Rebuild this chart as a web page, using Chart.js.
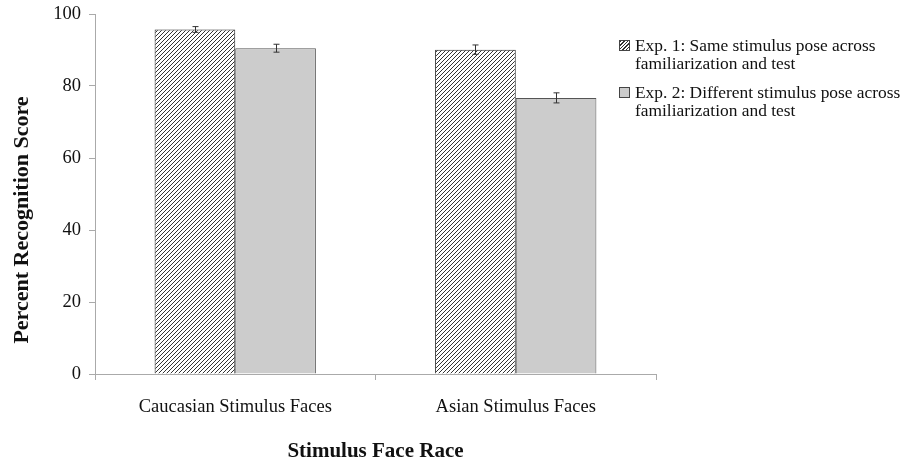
<!DOCTYPE html>
<html>
<head>
<meta charset="utf-8">
<script src="https://cdn.jsdelivr.net/npm/chart.js@4"></script>
<style>
  html, body { margin: 0; padding: 0; background: #fff; }
  #wrap { position: relative; width: 910px; height: 464px; }
  #legend { position: absolute; left: 619px; top: 36px; font-family: "Liberation Serif", "Times New Roman", serif; font-size: 17.4px; color: #111; }
  .item { position: relative; padding-left: 16px; line-height: 18px; margin-bottom: 11px; }
  .box { position: absolute; left: 0; top: 4px; width: 11px; height: 11px; box-sizing: border-box; border: 1px solid #444; }
</style>
</head>
<body>
<div id="wrap">
  <canvas id="c" width="910" height="464"></canvas>
  <div id="legend"></div>
</div>
<script>
const categories = ["Caucasian Stimulus Faces", "Asian Stimulus Faces"];
const seriesNames = [
  ["Exp. 1: Same stimulus pose across", "familiarization and test"],
  ["Exp. 2: Different stimulus pose across", "familiarization and test"]
];
const exp1Values = [95.7, 90.1];
const exp1Errors = [0.8, 1.3];
const exp2Values = [90.5, 76.7];
const exp2Errors = [1.1, 1.4];
const yTicks = [0, 20, 40, 60, 80, 100];
const xTitle = "Stimulus Face Race";
const yTitle = "Percent Recognition Score";

function makeHatch() {
  const s = 4;
  const p = document.createElement('canvas');
  p.width = s; p.height = s;
  const g = p.getContext('2d');
  g.fillStyle = '#fff';
  g.fillRect(0, 0, s, s);
  g.strokeStyle = '#333';
  g.lineWidth = 1;
  g.beginPath();
  g.moveTo(0, s); g.lineTo(s, 0);
  g.moveTo(-1, 1); g.lineTo(1, -1);
  g.moveTo(s - 1, s + 1); g.lineTo(s + 1, s - 1);
  g.stroke();
  return p;
}
const ctx = document.getElementById('c').getContext('2d');
const hatch = ctx.createPattern(makeHatch(), 'repeat');

const errors = [exp1Errors, exp2Errors];
const errorBarPlugin = {
  id: 'errorBars',
  afterDatasetsDraw(chart) {
    const c = chart.ctx;
    const y = chart.scales.y;
    c.save();
    c.strokeStyle = '#333';
    c.lineWidth = 1;
    chart.data.datasets.forEach((ds, di) => {
      const meta = chart.getDatasetMeta(di);
      meta.data.forEach((bar, i) => {
        const v = ds.data[i], e = errors[di][i];
        const x = Math.round(bar.x) + 0.5;
        const yt = y.getPixelForValue(v + e);
        const yb = y.getPixelForValue(v - e);
        c.beginPath();
        c.moveTo(x, yt); c.lineTo(x, yb);
        c.moveTo(x - 3, yt); c.lineTo(x + 3, yt);
        c.moveTo(x - 3, yb); c.lineTo(x + 3, yb);
        c.stroke();
      });
    });
    c.restore();
  }
};

const serif = "'Liberation Serif', 'Times New Roman', serif";
const yTitlePlugin = {
  id: 'yTitle',
  afterDraw(chart) {
    const c = chart.ctx;
    c.save();
    c.translate(22, 220);
    c.rotate(-Math.PI / 2);
    c.fillStyle = '#111';
    c.font = "bold 22px " + serif;
    c.textAlign = 'center';
    c.textBaseline = 'middle';
    c.fillText(yTitle, 0, 0);
    c.restore();
  }
};

new Chart(ctx, {
  type: 'bar',
  data: {
    labels: categories,
    datasets: [
      { label: seriesNames[0].join(' '), data: exp1Values, backgroundColor: hatch, borderColor: '#222', borderWidth: 1, categoryPercentage: 0.575, barPercentage: 1 },
      { label: seriesNames[1].join(' '), data: exp2Values, backgroundColor: '#cccccc', borderColor: '#555', borderWidth: 1, categoryPercentage: 0.575, barPercentage: 1 }
    ]
  },
  options: {
    responsive: false,
    animation: false,
    layout: { padding: { top: 14, right: 254, left: 0, bottom: 0 } },
    plugins: { legend: { display: false }, tooltip: { enabled: false } },
    scales: {
      x: {
        grid: { display: true, drawOnChartArea: false, offset: true, color: '#aaa', tickLength: 6 },
        border: { color: '#aaa' },
        ticks: { color: '#111', font: { family: serif, size: 18.5 }, padding: 16 },
        title: { display: true, text: xTitle, color: '#111', font: { family: serif, size: 21, weight: 'bold' }, padding: { top: 20, bottom: 0 } },
        afterFit(s) { s.height = 90; }
      },
      y: {
        min: 0, max: 100,
        afterBuildTicks(s) { s.ticks = yTicks.map(v => ({ value: v })); },
        grid: { display: true, drawOnChartArea: false, color: '#aaa', tickLength: 6 },
        border: { color: '#aaa' },
        ticks: { color: '#111', font: { family: serif, size: 18.5, lineHeight: 1 }, padding: 8 },
        afterFit(s) { s.width = 95; s.paddingTop = 0; s.paddingBottom = 0; }
      }
    }
  },
  plugins: [errorBarPlugin, yTitlePlugin]
});

const legend = document.getElementById('legend');
seriesNames.forEach((lines, i) => {
  const d = document.createElement('div');
  d.className = 'item';
  const b = document.createElement('span');
  b.className = 'box';
  if (i === 0) {
    b.style.background = 'repeating-linear-gradient(-45deg, #fff 0px, #fff 1.5px, #333 1.5px, #333 2.5px)';
  } else {
    b.style.background = '#cccccc';
  }
  d.appendChild(b);
  lines.forEach((t) => {
    const s = document.createElement('div');
    s.textContent = t;
    d.appendChild(s);
  });
  legend.appendChild(d);
});
</script>
</body>
</html>
